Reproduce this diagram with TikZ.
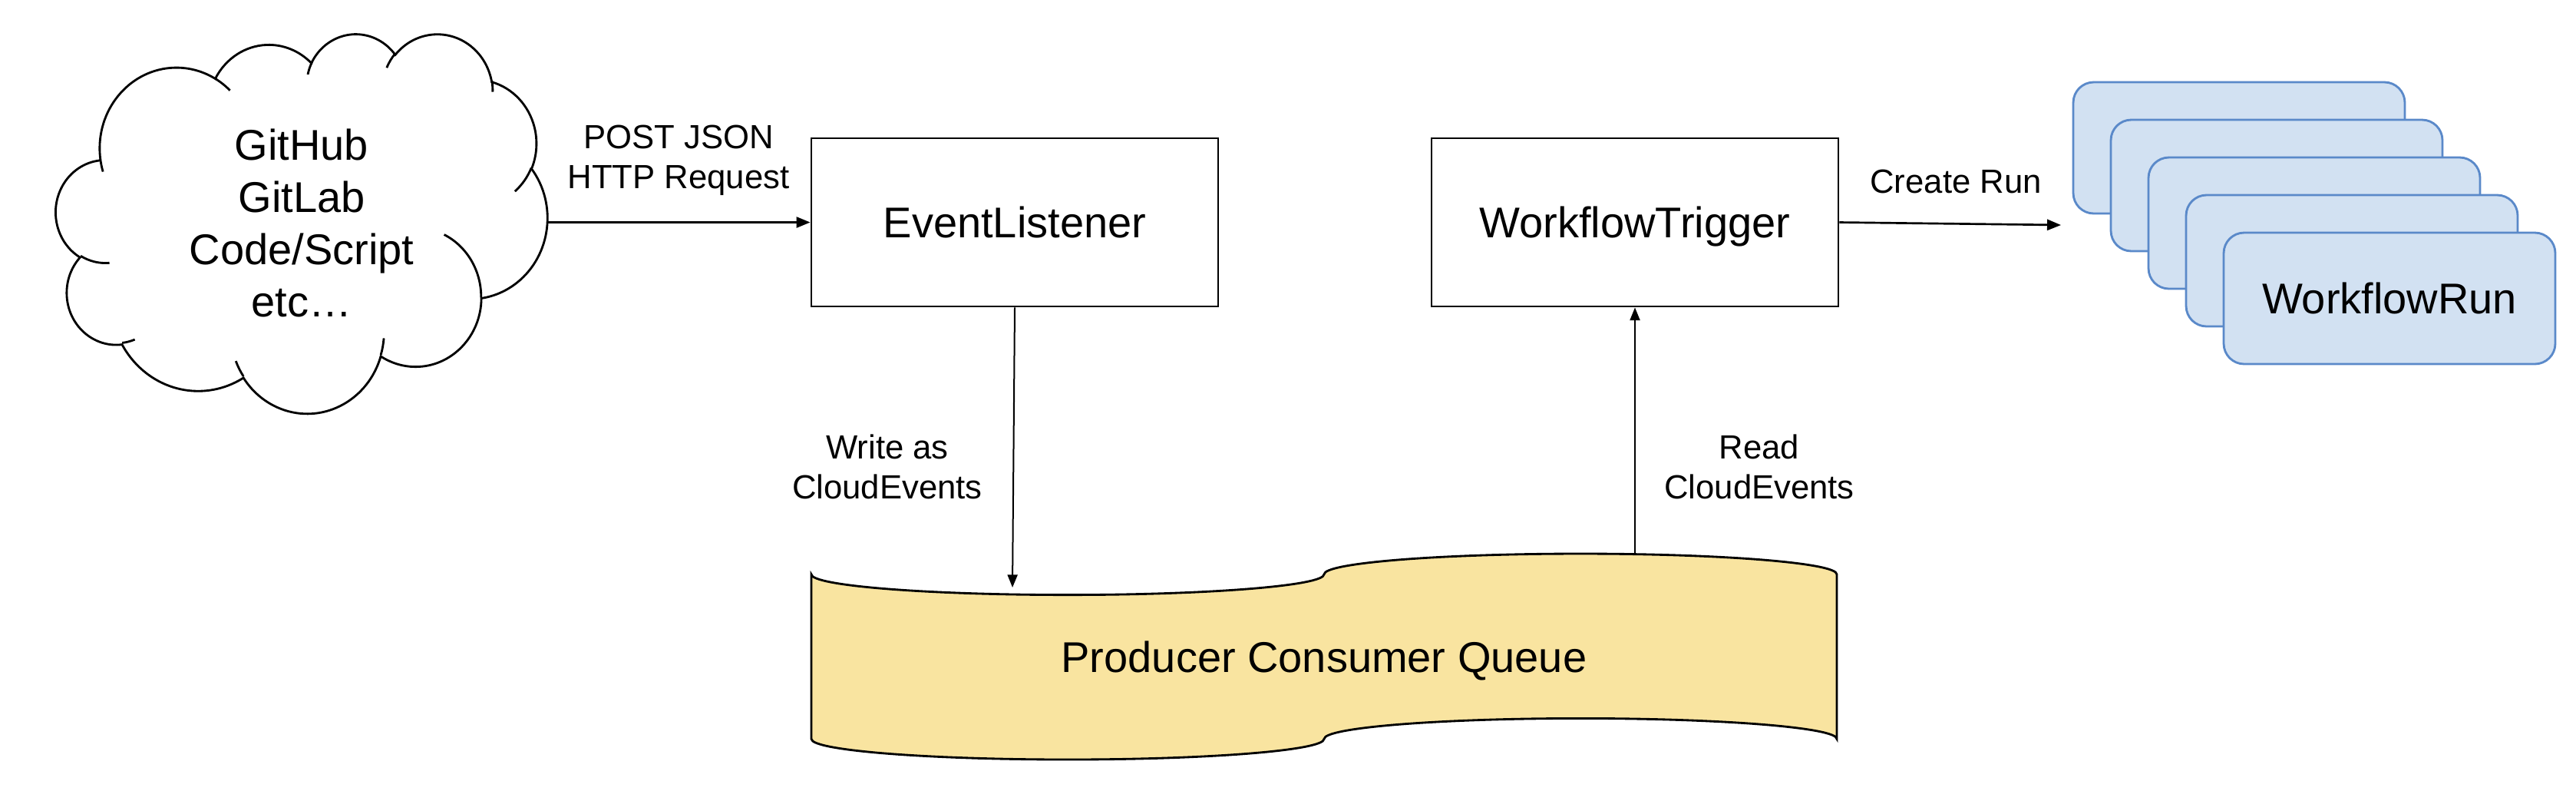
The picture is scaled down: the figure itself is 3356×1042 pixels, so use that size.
\documentclass[tikz,border=0pt]{standalone}
\usepackage{fontspec}
\setmainfont{Liberation Sans}
\usetikzlibrary{arrows.meta}
\newcommand\bigf{\fontsize{16.8}{20.4}\selectfont}
\newcommand\labf{\fontsize{13.1}{15.6}\selectfont}
\definecolor{qyellow}{HTML}{F9E4A0}
\definecolor{runfill}{HTML}{D2E1F2}
\definecolor{runline}{HTML}{5A89C9}
\begin{document}
\begin{tikzpicture}[x=0.3pt,y=-0.3pt,
  ln/.style={line width=0.85pt, draw=black},
  procbox/.style={draw=black, line width=0.85pt, fill=white, minimum width=159pt, minimum height=65.7pt, inner sep=0pt, font=\bigf, text height=12pt, text depth=0pt},
  runbox/.style={draw=runline, line width=0.85pt, fill=runfill, rounded corners=8pt, minimum width=129.6pt, minimum height=51.3pt, inner sep=0pt, font=\bigf, text height=12pt, text depth=0pt},
  lab/.style={align=center, font=\labf, inner sep=0pt},
  harrow/.style={line width=0.8pt, -{Triangle[length=5.4pt,width=4.2pt]}},
  varrow/.style={line width=0.6pt, -{Triangle[length=5pt,width=3.9pt]}}
]
\useasboundingbox (0,0) rectangle (3356,1042);

% cloud outline (Office cloud geometry)
\begin{scope}[shift={(73,43)}, xscale=1.481481, yscale=1.143519]
\draw[ln, fill=white] (39,143.7)
  \foreach \rA/\rB/\sA/\sW in {67.53/91.90/-190.4875/123.7805, 53.33/72.67/-144.1024/89.9452, 43.65/59.45/-145.8079/99.7230, 48.57/65.95/-130.9861/117.2417, 53.33/72.73/-78.7089/109.0269, 67.75/92.20/-46.2673/130.2690, 57.85/78.67/0.6250/114.0333, 67.52/92.15/22.4516/115.1726, 77.20/105.43/66.2426/75.7110, 43.60/59.18/-274.9421/146.7356, 43.45/59.45/-246.8285/152.5189}
  { arc[x radius=\rA*0.3pt, y radius=\rB*0.3pt, start angle={-atan2(\rA*sin(\sA),\rB*cos(\sA))}, delta angle={-mod(atan2(\rA*sin(\sA+\sW),\rB*cos(\sA+\sW))-atan2(\rA*sin(\sA),\rB*cos(\sA))+720,360)}] } -- cycle;
\draw[ln]
  \foreach \mx/\my/\rA/\rB/\sA/\sW in {46.93/261.77/43.45/59.45/86.7420/26.4295, 69.28/348.99/43.60/59.18/73.6105/11.4475, 164.78/390.90/67.52/92.15/137.6242/14.0811, 288.27/347.51/67.52/92.15/6.4533/15.9984, 341.29/229.54/57.85/78.67/-70.2924/70.9174, 417.98/153.54/53.33/72.73/30.3180/27.7515, 383.24/54.26/48.57/65.95/-13.7443/14.8589, 290.78/39.52/48.57/65.95/-149.1815/18.1954, 221.41/47.20/43.65/59.45/-163.4943/17.6864, 140.00/51.92/67.53/91.90/-66.7070/12.3194, 41.27/157.89/67.53/91.90/157.6544/11.8582}
  { (\mx,\my) arc[x radius=\rA*0.3pt, y radius=\rB*0.3pt, start angle={-atan2(\rA*sin(\sA),\rB*cos(\sA))}, delta angle={-mod(atan2(\rA*sin(\sA+\sW),\rB*cos(\sA+\sW))-atan2(\rA*sin(\sA),\rB*cos(\sA))+720,360)}] };
\end{scope}
\node[minimum width=192pt, minimum height=148.2pt, inner sep=0pt, align=center, font=\bigf] (src) at (393,290) {GitHub\\GitLab\\Code/Script\\etc…};

% boxes
\node[procbox] (el) at (1322,289.5) {EventListener};
\node[procbox] (wt) at (2130,289.5) {WorkflowTrigger};

% queue (punched tape)
\node[minimum width=400.8pt, minimum height=80.4pt, inner sep=0pt] (q) at (1725,855) {};
\draw[ln, fill=qyellow] (1057,747.8)
  arc[x radius=100.2pt, y radius=8.04pt, start angle=180, end angle=360]
  arc[x radius=100.2pt, y radius=8.04pt, start angle=180, end angle=0]
  -- (2393,962.2)
  arc[x radius=100.2pt, y radius=8.04pt, start angle=0, end angle=180]
  arc[x radius=100.2pt, y radius=8.04pt, start angle=0, end angle=-180]
  -- cycle;
\node[font=\bigf, inner sep=0pt, text height=12pt, text depth=0pt] (qt) at (q.center) {Producer Consumer Queue};

% workflow runs
\node[runbox] (r1) at (2917,192.5) {};
\node[runbox] (r2) at (2966,241.5) {};
\node[runbox] (r3) at (3015,290.5) {};
\node[runbox] (r4) at (3064,339.5) {};
\node[runbox] (r5) at (3113,388.5) {WorkflowRun};

% connector end points
\coordinate (qin) at (1319,765);
\coordinate (qout) at (2130,722);
\coordinate (runin) at (2685,293);

% connectors
\draw[harrow] (src.east |- el.west) -- (el.west);
\draw[varrow] (el.south) -- (qin);
\draw[varrow] (qout) -- (wt.south);
\draw[harrow] (wt.east) -- (runin);

% labels
\node[lab] (l1) at (884,209) {POST JSON\\HTTP Request};
\node[lab] (l2) at (1156,607.5) {Write as\\CloudEvents};
\node[lab] (l3) at (2292,607.5) {Read\\CloudEvents};
\node[lab] (l4) at (2548,236.5) {Create Run};
\end{tikzpicture}
\end{document}
